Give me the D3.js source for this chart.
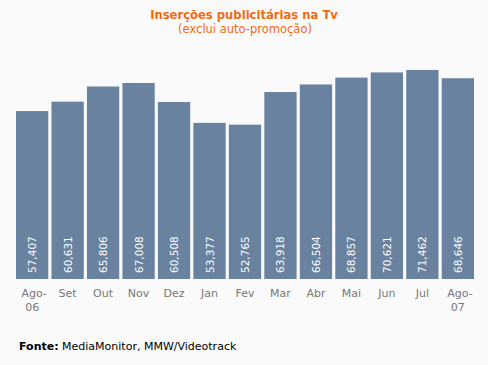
<!DOCTYPE html>
<html><head><meta charset="utf-8">
<script src="https://cdn.jsdelivr.net/npm/d3@7"></script>
<style>body{margin:0;background:#fafafa;}svg{display:block;}</style>
</head><body>
<script>
const categories = ["Ago-06","Set","Out","Nov","Dez","Jan","Fev","Mar","Abr","Mai","Jun","Jul","Ago-07"];
const values = [57407,60631,65806,67008,60508,53377,52765,63918,66504,68857,70621,71462,68646];
const valueLabels = ["57,407","60,631","65,806","67,008","60,508","53,377","52,765","63,918","66,504","68,857","70,621","71,462","68,646"];

const W=488,H=365;
const svg=d3.select("body").append("svg").attr("width",W).attr("height",H).style("background","#fafafa");
const x=d3.scaleBand().domain(categories).range([16,474]).paddingInner(0.09).paddingOuter(0);
const y=d3.scaleLinear().domain([0,80000]).range([279,45]);

svg.append("text").attr("x",244).attr("y",19).attr("text-anchor","middle")
  .attr("font-family","Verdana, DejaVu Sans, sans-serif").attr("font-weight","bold").attr("font-size",11.6)
  .attr("fill","#f26a12").text("Inserções publicitárias na Tv");
svg.append("text").attr("x",245).attr("y",33).attr("text-anchor","middle")
  .attr("font-family","Verdana, DejaVu Sans, sans-serif").attr("font-size",11.5)
  .attr("fill","#f26a12").text("(exclui auto-promoção)");

svg.selectAll("rect.bar").data(values).join("rect").attr("class","bar")
  .attr("x",(d,i)=>x(categories[i])).attr("width",x.bandwidth())
  .attr("y",d=>y(d)).attr("height",d=>y(0)-y(d)).attr("fill","#68829f");

svg.selectAll("text.val").data(values).join("text").attr("class","val")
  .attr("transform",(d,i)=>`translate(${x(categories[i])+x.bandwidth()/2+4},${y(0)-6}) rotate(-90)`)
  .attr("font-family","DejaVu Sans, sans-serif").attr("font-size",10.5).attr("fill","#ffffff")
  .text((d,i)=>valueLabels[i]);

const ax=svg.append("g");
categories.forEach((c,i)=>{
  const cx=x(c)+x.bandwidth()/2;
  const parts=c.includes("-")?[c.split("-")[0]+"-",c.split("-")[1]]:[c];
  parts.forEach((p,j)=>{
    ax.append("text").attr("x",cx+(j===0&&parts.length>1?2:0)).attr("y",297+j*14).attr("text-anchor","middle")
      .attr("font-family","Verdana, DejaVu Sans, sans-serif").attr("font-size",11).attr("fill","#777")
      .text(p);
  });
});

const f=svg.append("text").attr("x",19).attr("y",350).attr("font-family","Verdana, DejaVu Sans, sans-serif").attr("font-size",11).attr("fill","#000");
f.append("tspan").attr("font-weight","bold").text("Fonte:");
f.append("tspan").text(" MediaMonitor, MMW/Videotrack");
</script>
</body></html>
